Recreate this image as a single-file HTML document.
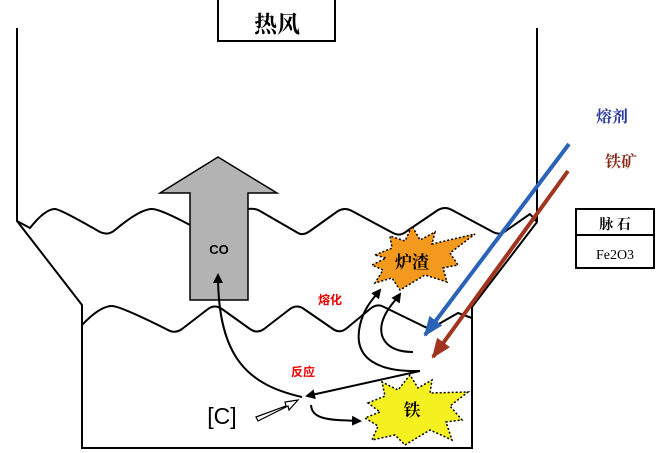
<!DOCTYPE html>
<html><head><meta charset="utf-8"><style>
body{margin:0;background:#fff;}
svg{display:block;}
text{font-family:"Liberation Sans","Noto Sans CJK SC",sans-serif;}
.s{font-family:"Liberation Serif","Noto Serif CJK SC",serif;}
</style></head><body>
<svg width="660" height="453" viewBox="0 0 660 453" xmlns="http://www.w3.org/2000/svg">
<defs>
<marker id="ab" markerWidth="10" markerHeight="10" refX="8" refY="5" orient="auto" markerUnits="userSpaceOnUse"><path d="M0,0 L10,5 L0,10 Z" fill="#000"/></marker>
<marker id="mb" markerWidth="20" markerHeight="16" refX="18" refY="8" orient="auto" markerUnits="userSpaceOnUse"><path d="M0,0 L20,8 L0,16 Z" fill="#2b63b8"/></marker>
<marker id="mr" markerWidth="20" markerHeight="16" refX="18" refY="8" orient="auto" markerUnits="userSpaceOnUse"><path d="M0,0 L20,8 L0,16 Z" fill="#a0341f"/></marker>
</defs>
<rect x="218" y="-2" width="117" height="43" fill="#fff" stroke="#000" stroke-width="2"/>
<text x="277" y="32" font-size="23" font-weight="bold" text-anchor="middle" class="s">热风</text>
<polyline points="17,28 17,221 82,305 82,448 472,448 472,307 537,222 537,28" fill="none" stroke="#000" stroke-width="2"/>
<path d="M17,221 L30,228 Q45,209 55,209 Q60,209 100,232 Q108,236 115,230 Q140,209 152,209 Q160,209 190,225 M248,209 Q255,208 260,211 L298,233 Q303,236 310,231 L338,211 Q345,207 352,211 L393,233 Q400,237 407,231 L438,210 Q445,206 452,210 L493,232 Q500,236 507,230 L530,214 L537,222" fill="none" stroke="#000" stroke-width="2" stroke-linejoin="round"/>
<path d="M82,325 Q100,306 112,306 Q120,306 168,330 Q175,334 182,329 L208,309 Q215,304 222,309 L250,329 Q257,334 264,329 L290,309 Q297,304 304,309 L333,329 Q340,334 347,328 L370,309 Q377,303 384,307 L423,326 Q430,330 437,325 L458,313 L472,318" fill="none" stroke="#000" stroke-width="2" stroke-linejoin="round"/>
<polygon points="218,157 277,193 248,193 248,300 190,300 190,193 160,193" fill="#b3b3b3" stroke="#000" stroke-width="1.5"/>
<text x="219" y="254" font-size="13" font-weight="bold" text-anchor="middle">CO</text>
<path d="M302,397 C250,385 218,360 218,275" fill="none" stroke="#000" stroke-width="2" marker-end="url(#ab)"/>
<path d="M420,371 L307,396" fill="none" stroke="#000" stroke-width="2" marker-end="url(#ab)"/>
<path d="M420,371 C380,372 352,360 360,325 C364,308 372,300 380,290" fill="none" stroke="#000" stroke-width="2" marker-end="url(#ab)"/>
<path d="M413,352 C385,352 375,335 385,315 C390,305 396,300 400,294" fill="none" stroke="#000" stroke-width="2" marker-end="url(#ab)"/>
<path d="M311,405 C312,420 330,420 360,421" fill="none" stroke="#000" stroke-width="2" marker-end="url(#ab)"/>
<polygon points="256,417 286,406 285,402 298,400 289,410 288,406 258,421" fill="#fff" stroke="#000" stroke-width="1.2"/>
<text x="222" y="424" font-size="23" text-anchor="middle">[C]</text>
<text x="303" y="376" font-size="12" font-weight="bold" fill="#e00" text-anchor="middle">反应</text>
<text x="330" y="304" font-size="12" font-weight="bold" fill="#e00" text-anchor="middle">熔化</text>
<polygon points="375,255 392,248 390,236 405,241 412,226 420,240 435,232 432,244 475,234 450,253 458,265 443,268 447,282 425,275 400,290 392,278 375,283 383,270 372,265 386,258" fill="#f39a1e" stroke="#000" stroke-width="1.5" stroke-dasharray="2,2"/>
<text x="412" y="268" font-size="17" font-weight="bold" text-anchor="middle" class="s">炉渣</text>
<polygon points="368,403 385,396 382,382 398,390 410,375 418,388 432,380 430,393 468,392 450,406 462,420 446,422 452,440 430,430 405,445 395,435 372,440 378,426 365,418 380,412" fill="#f5f020" stroke="#000" stroke-width="1.5" stroke-dasharray="2,2"/>
<text x="412" y="416" font-size="17" font-weight="bold" text-anchor="middle" class="s">铁</text>
<line x1="569" y1="144" x2="425" y2="335" stroke="#2b63b8" stroke-width="4" marker-end="url(#mb)"/>
<line x1="568" y1="171" x2="433" y2="357" stroke="#a0341f" stroke-width="4" marker-end="url(#mr)"/>
<text x="612" y="122" font-size="16" font-weight="bold" fill="#2a3a9a" text-anchor="middle" class="s">熔剂</text>
<text x="621" y="167" font-size="16" font-weight="bold" fill="#8a2a1a" text-anchor="middle" class="s">铁矿</text>
<rect x="576" y="209" width="78" height="59" fill="#fff" stroke="#000" stroke-width="2"/>
<line x1="576" y1="235" x2="654" y2="235" stroke="#000" stroke-width="2"/>
<text x="615" y="229" font-size="14" font-weight="bold" text-anchor="middle" class="s">脉 石</text>
<text x="615" y="259" font-size="14" text-anchor="middle" class="s">Fe2O3</text>
</svg>
</body></html>
